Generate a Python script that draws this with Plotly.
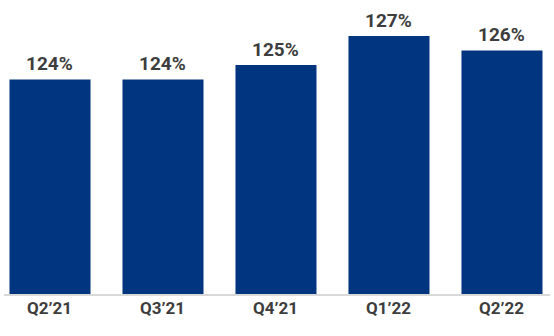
import plotly.graph_objects as go

categories = ["Q2’21", "Q3’21", "Q4’21", "Q1’22", "Q2’22"]
values = [124, 124, 125, 127, 126]
labels = ["124%", "124%", "125%", "127%", "126%"]

fig = go.Figure()
fig.add_trace(go.Bar(
    x=categories, y=values,
    marker=dict(color="#023580", line=dict(width=0)),
    hoverinfo="skip",
))
for c, v, t in zip(categories, values, labels):
    fig.add_annotation(
        x=c, y=v, text="<b>" + t + "</b>", showarrow=False,
        yanchor="bottom", yshift=2,
        font=dict(family="Roboto", size=19, color="#3d3d3d"),
    )
    fig.add_annotation(
        x=c, xref="x", y=0, yref="paper", text="<b>" + c + "</b>", showarrow=False,
        yanchor="top", yshift=-2,
        font=dict(family="Roboto", size=17, color="#3d3d3d"),
    )
fig.update_layout(
    width=554, height=336,
    margin=dict(l=4, r=4, t=0, b=42),
    paper_bgcolor="white", plot_bgcolor="white",
    bargap=0.283, showlegend=False,
    xaxis=dict(range=[-0.407, 4.425], showline=True, linecolor="#d9d9d9", linewidth=2,
               ticks="", showticklabels=False, showgrid=False),
    yaxis=dict(range=[109.2, 129.48], visible=False, showgrid=False),
)
fig.write_html("out.html")
